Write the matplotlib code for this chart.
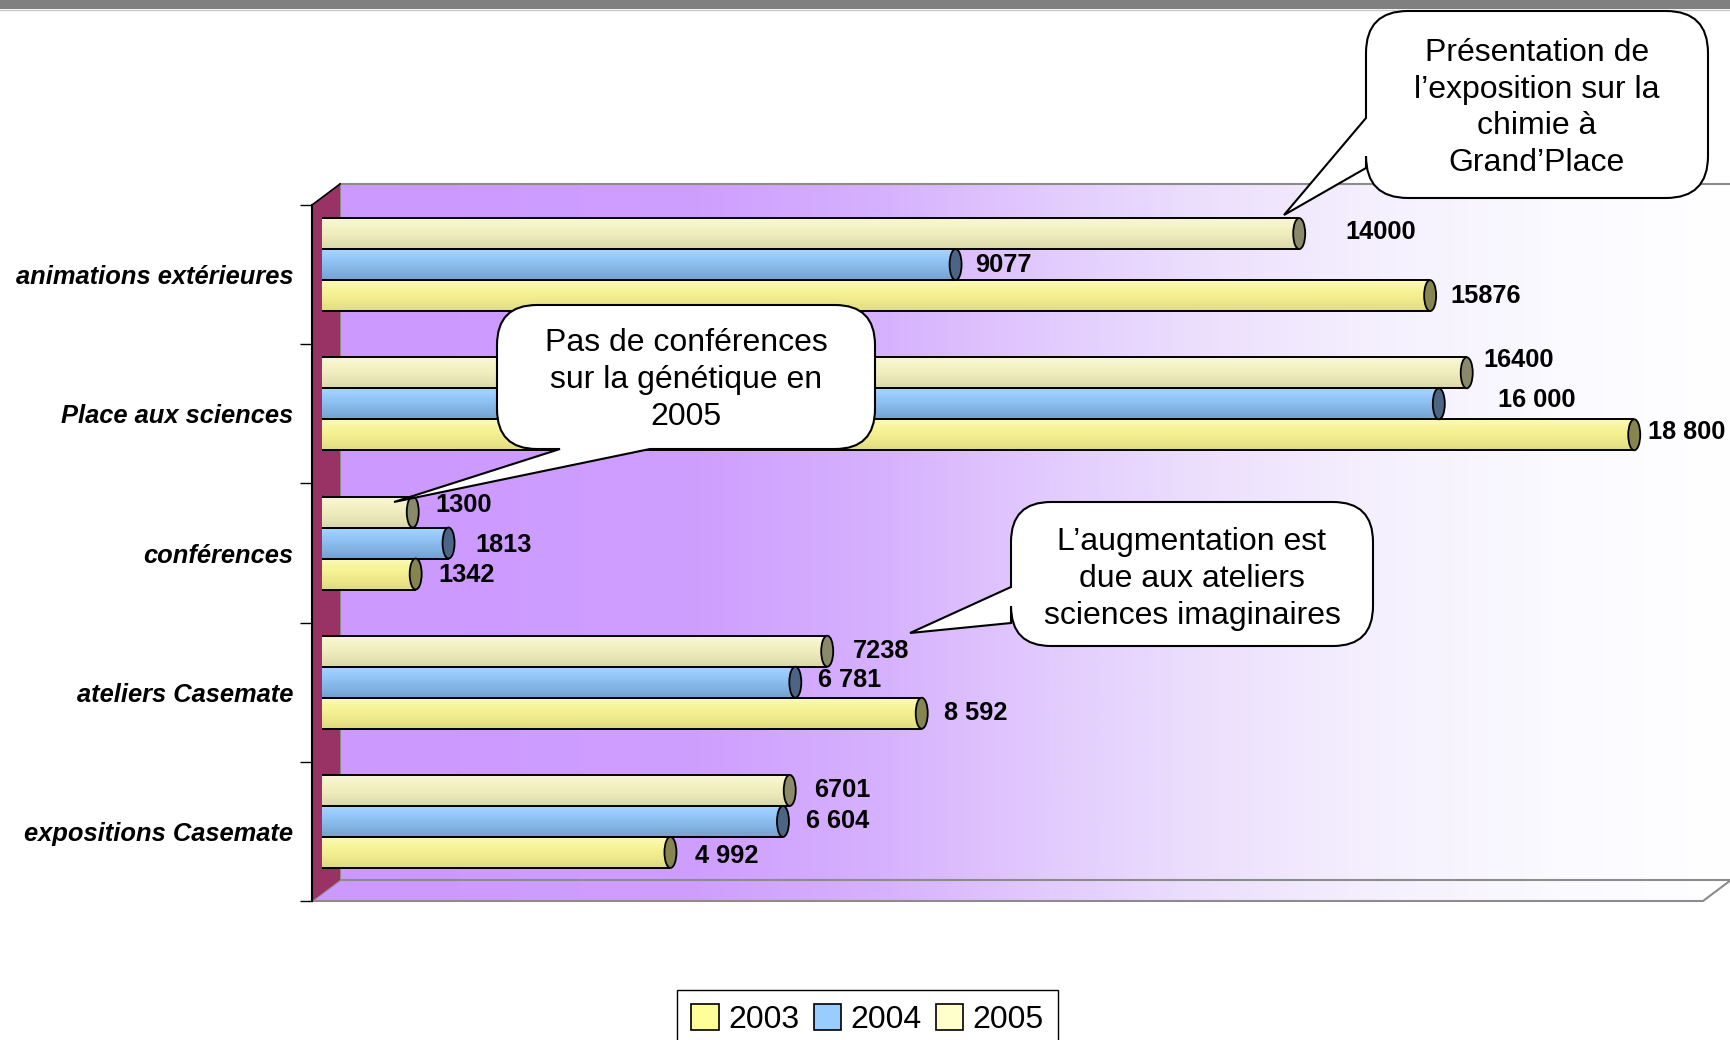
import numpy as np
import matplotlib
matplotlib.use("Agg")
import matplotlib.pyplot as plt
from matplotlib.patches import Polygon, Ellipse, Patch, PathPatch, Rectangle
from matplotlib.path import Path
from matplotlib.colors import to_rgb

# ---------------- data ----------------
categories = ["animations extérieures", "Place aux sciences", "conférences",
              "ateliers Casemate", "expositions Casemate"]
years = ["2003", "2004", "2005"]
values_2003 = [15876, 18800, 1342, 8592, 4992]
values_2004 = [9077, 16000, 1813, 6781, 6604]
values_2005 = [14000, 16400, 1300, 7238, 6701]
labels_2003 = ["15876", "18 800", "1342", "8 592", "4 992"]
labels_2004 = ["9077", "16 000", "1813", "6 781", "6 604"]
labels_2005 = ["14000", "16400", "1300", "7238", "6701"]
callout_texts = ["Présentation de\nl’exposition sur la\nchimie à\nGrand’Place",
                 "Pas de conférences\nsur la génétique en\n2005",
                 "L’augmentation est\ndue aux ateliers\nsciences imaginaires"]

# ---------------- style ----------------
FONT = "Liberation Sans"
W, H = 1731, 1040
legend_colors = {"2003": "#ffff99", "2004": "#99ccff", "2005": "#ffffcc"}
body_stops = {
    "2003": ["#fbf8b8", "#f7f49c", "#f3ef8f", "#ebe788", "#dedb80"],
    "2004": ["#a6d2ff", "#96c8fb", "#8bbcee", "#80b0e0", "#74a3d2"],
    "2005": ["#f8f6d6", "#f4f2c6", "#efecbe", "#e6e3b4", "#dbd8aa"],
}
cap_colors = {"2003": "#86854f", "2004": "#4d6585", "2005": "#8a8a6a"}
# label offsets in pixels (dx, dy up) relative to the bar end
off_2003 = [(20, 0), (14, 3), (23, -1), (22, 0), (25, -4)]
off_2004 = [(20, 0), (59, 4), (27, -2), (23, 2), (23, 0)]
off_2005 = [(46, 2), (17, 13), (23, 7), (26, 0), (24, 0)]

fig = plt.figure(figsize=(W / 100, H / 100), dpi=100)
fig.patch.set_facecolor("white")

# ---------------- background (3D walls) in pixel coords ----------------
bg = fig.add_axes([0, 0, 1, 1], zorder=0)
bg.set_xlim(0, W)
bg.set_ylim(H, 0)
bg.axis("off")

bg.add_patch(Rectangle((0, 0), W, 9, fc="#808080", ec="none"))
bg.plot([0, W], [9.5, 9.5], color="#c8c8c8", lw=1)

fl, fr, ft, fb = 312, 1703, 205, 901        # front plane
dxw, dyw = 28, 21                           # depth offset
bl, bt, bb = fl + dxw, ft - dyw, fb - dyw    # back wall

stop_x = [bl, 700, 880, 1050, 1200, 1380, 1560, W]
stop_c = ["#cc99ff", "#cf9fff", "#d6b1fe", "#e2cbfd", "#ecdffd", "#f5f0fe", "#fbfaff", "#ffffff"]
xs = np.linspace(fl, W, 900)
rgb = np.array([to_rgb(c) for c in stop_c])
grad = np.stack([np.interp(xs, stop_x, rgb[:, i]) for i in range(3)], axis=-1)[None, :, :]

wall = bg.imshow(grad, extent=(fl, W, bb, bt), aspect="auto", zorder=1)
wall.set_clip_path(Rectangle((bl, bt), W - bl, bb - bt, transform=bg.transData))
floor_poly = Polygon([(fl, fb), (fr, fb), (fr + dxw, bb), (bl, bb)], closed=True,
                     fc="none", ec="#8c8c8c", lw=1.5, zorder=3)
floor = bg.imshow(grad, extent=(fl, W, fb, bb), aspect="auto", zorder=2)
bg.add_patch(floor_poly)
floor.set_clip_path(floor_poly)
bg.plot([bl, W], [bt, bt], color="#8c8c8c", lw=1.5, zorder=3)
bg.plot([bl, bl], [bt, bb], color="#8c8c8c", lw=1.5, zorder=3)
bg.add_patch(Polygon([(fl, ft), (bl, bt), (bl, bb), (fl, fb)], closed=True,
                     fc="#993366", ec="none", zorder=4))
bg.plot([fl, bl], [ft, bt], color="black", lw=1.2, zorder=5)

# ---------------- front plane axes (spine, ticks, labels) ----------------
scale = 0.0698  # px per unit
xmax = 20000
n = len(categories)
fig_w = xmax * scale
ax_front = fig.add_axes([fl / W, (H - fb) / H, fig_w / W, (fb - ft) / H], zorder=1)
ax_front.set_xlim(0, xmax)
ax_front.set_ylim(n - 0.5, -0.5)
ax_front.patch.set_alpha(0)
for s in ["top", "right", "bottom"]:
    ax_front.spines[s].set_visible(False)
ax_front.spines["left"].set_color("black")
ax_front.spines["left"].set_linewidth(1.5)
ax_front.set_xticks([])
ax_front.set_yticks(range(n))
ax_front.set_yticklabels(categories, fontfamily=FONT, fontweight="bold",
                         fontstyle="italic", fontsize=18.4)
ax_front.tick_params(axis="y", which="major", length=0, pad=13.5)
ax_front.set_yticks(np.arange(n + 1) - 0.5, minor=True)
ax_front.tick_params(axis="y", which="minor", length=9, width=1, color="black")

# ---------------- bars axes (shifted into depth) ----------------
ax = fig.add_axes([(fl + 10) / W, (H - fb + 10) / H, fig_w / W, (fb - ft) / H], zorder=2)
ax.set_xlim(0, xmax)
ax.set_ylim(n - 0.5, -0.5)
ax.axis("off")
ax.patch.set_alpha(0)

h = 31 / ((fb - ft) / n)
ypos = np.arange(n)
series = [("2003", values_2003, labels_2003, off_2003, h),
          ("2004", values_2004, labels_2004, off_2004, 0.0),
          ("2005", values_2005, labels_2005, off_2005, -h)]
nstrip = 14
cap_w = 12 / scale
for year, vals, labs, offs, dy in series:
    yc = ypos + dy
    stops = np.array([to_rgb(c) for c in body_stops[year]])
    t_stops = np.linspace(0, 1, len(stops))
    for j, (y, v) in enumerate(zip(yc, vals)):
        ax.add_patch(Ellipse((0, y), cap_w, h, fc=body_stops[year][1], ec="black", lw=1.3, zorder=1))
    for k in range(nstrip):
        t = k / (nstrip - 1)
        col = [np.interp(t, t_stops, stops[:, i]) for i in range(3)]
        ax.barh(yc - h / 2 + (k + 0.5) * h / nstrip, vals, height=h / nstrip * 1.02,
                color=col, lw=0, zorder=2)
    ax.hlines(yc - h / 2, 0, vals, color="black", lw=1.4, zorder=3)
    ax.hlines(yc + h / 2, 0, vals, color="black", lw=1.4, zorder=3)
    for y, v, lab, (ox, oy) in zip(yc, vals, labs, offs):
        ax.add_patch(Ellipse((v, y), cap_w, h, fc=cap_colors[year], ec="black", lw=1.3, zorder=4))
        ax.annotate(lab, xy=(v, y), xytext=(ox, oy), textcoords="offset pixels",
                    ha="left", va="center", fontsize=18.3, fontweight="bold",
                    fontfamily=FONT, zorder=5, annotation_clip=False)
ax.set_xlim(0, xmax)
ax.set_ylim(n - 0.5, -0.5)

# ---------------- callouts ----------------
ov = fig.add_axes([0, 0, 1, 1], zorder=10)
ov.set_xlim(0, W)
ov.set_ylim(H, 0)
ov.axis("off")
ov.patch.set_alpha(0)


def bubble(x0, y0, x1, y1, r, side, a1, a2, tip):
    M, L, C = Path.MOVETO, Path.LINETO, Path.CURVE3
    v, c = [], []
    v += [(x0 + r, y0)]; c += [M]
    v += [(x1 - r, y0)]; c += [L]
    v += [(x1, y0), (x1, y0 + r)]; c += [C, C]
    v += [(x1, y1 - r)]; c += [L]
    v += [(x1, y1), (x1 - r, y1)]; c += [C, C]
    if side == "bottom":
        v += [(a2, y1), tip, (a1, y1)]; c += [L, L, L]
    v += [(x0 + r, y1)]; c += [L]
    v += [(x0, y1), (x0, y1 - r)]; c += [C, C]
    if side == "left":
        v += [(x0, a2), tip, (x0, a1)]; c += [L, L, L]
    v += [(x0, y0 + r)]; c += [L]
    v += [(x0, y0), (x0 + r, y0)]; c += [C, C]
    v += [(x0 + r, y0)]; c += [Path.CLOSEPOLY]
    return Path(v, c)


bubbles = [
    dict(box=(1366, 11, 1708, 198), r=42, side="left", a=(118, 168), tip=(1284, 215), txt=(1537, 108)),
    dict(box=(497, 305, 875, 449), r=40, side="bottom", a=(560, 650), tip=(394, 502), txt=(686, 380)),
    dict(box=(1011, 502, 1373, 646), r=40, side="left", a=(587, 623), tip=(910, 633), txt=(1192, 579)),
]
for b, text in zip(bubbles, callout_texts):
    p = bubble(*b["box"], b["r"], b["side"], b["a"][0], b["a"][1], b["tip"])
    ov.add_patch(PathPatch(p, fc="white", ec="black", lw=1.5))
    ov.text(b["txt"][0], b["txt"][1], text, ha="center", va="center", fontsize=23,
            fontfamily=FONT, linespacing=1.3)

# ---------------- legend ----------------
handles = [Patch(fc=legend_colors[y], ec="black", lw=1.2) for y in years]
leg = fig.legend(handles, years, loc="upper left", bbox_to_anchor=(677 / W, 1 - 990 / H),
                 ncol=3, frameon=True, fancybox=False, edgecolor="black", framealpha=1,
                 prop={"family": FONT, "size": 23}, handlelength=0.85, handleheight=0.85,
                 handletextpad=0.3, columnspacing=0.45, borderpad=0.45, borderaxespad=0)
leg.get_frame().set_linewidth(1.0)

fig.savefig("out.png", dpi=100)
